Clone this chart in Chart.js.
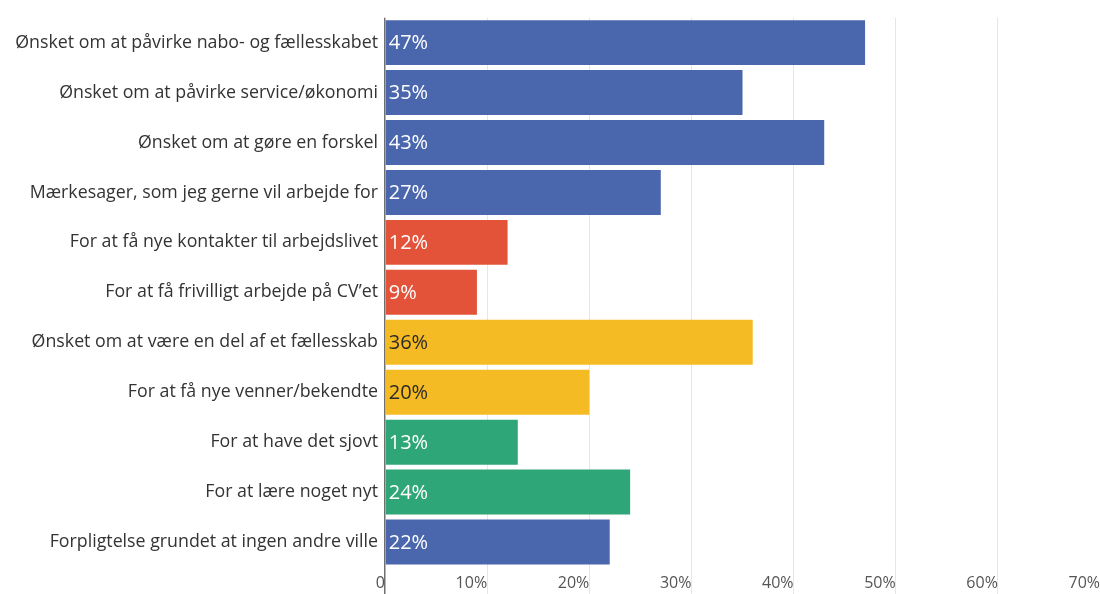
<!DOCTYPE html>
<html>
<head>
<meta charset="utf-8">
<script src="https://cdn.jsdelivr.net/npm/chart.js@4.4.0/dist/chart.umd.min.js"></script>
<style>
  html, body { margin: 0; padding: 0; background: #fff; }
  #wrap { width: 1100px; height: 594px; position: relative; }
</style>
</head>
<body>
<div id="wrap"><canvas id="barChart"></canvas></div>
<script>
// Data
const categories = [
    'Ønsket om at påvirke nabo- og fællesskabet',
    'Ønsket om at påvirke service/økonomi',
    'Ønsket om at gøre en forskel',
    'Mærkesager, som jeg gerne vil arbejde for',
    'For at få nye kontakter til arbejdslivet',
    'For at få frivilligt arbejde på CV\u2019et',
    'Ønsket om at være en del af et fællesskab',
    'For at få nye venner/bekendte',
    'For at have det sjovt',
    'For at lære noget nyt',
    'Forpligtelse grundet at ingen andre ville'
];
const values = [47, 35, 43, 27, 12, 9, 36, 20, 13, 24, 22];
const groups = ['blue', 'blue', 'blue', 'blue', 'red', 'red', 'yellow', 'yellow', 'green', 'green', 'blue'];
const xTicks = [0, 10, 20, 30, 40, 50, 60, 70];

// Farver
const palette = { blue: '#4a66ad', red: '#e2533a', yellow: '#f5bb24', green: '#2fa678' };
const labelColor = { blue: '#ffffff', red: '#ffffff', yellow: '#2a2a2a', green: '#ffffff' };
const FONT = "'Open Sans', Arial, sans-serif";

// Værdier inde i søjlerne
const valueLabels = {
    id: 'valueLabels',
    afterDatasetsDraw(chart) {
        const ctx = chart.ctx;
        const meta = chart.getDatasetMeta(0);
        ctx.save();
        ctx.font = '20px ' + FONT;
        ctx.textAlign = 'left';
        ctx.textBaseline = 'middle';
        meta.data.forEach((bar, i) => {
            ctx.fillStyle = labelColor[groups[i]];
            ctx.fillText(values[i] + '%', bar.base + 3, bar.y + 1);
        });
        ctx.restore();
    }
};

const ctx = document.getElementById('barChart').getContext('2d');
new Chart(ctx, {
    type: 'bar',
    data: {
        labels: categories,
        datasets: [{
            data: values,
            backgroundColor: groups.map(g => palette[g]),
            categoryPercentage: 1,
            barPercentage: 0.9
        }]
    },
    options: {
        indexAxis: 'y',
        responsive: true,
        maintainAspectRatio: false,
        animation: false,
        layout: { padding: { top: 15, left: 0, right: 0, bottom: 0 } },
        plugins: {
            legend: { display: false },
            tooltip: { enabled: false }
        },
        scales: {
            x: {
                min: 0,
                max: 70,
                afterBuildTicks: axis => { axis.ticks = xTicks.map(v => ({ value: v })); },
                afterFit: axis => { axis.height = 27; },
                border: { display: false },
                grid: {
                    color: c => c.tick && c.tick.value === 0 ? '#707070' : '#e6e6e6',
                    lineWidth: c => c.tick && c.tick.value === 0 ? 1.5 : 1,
                    tickLength: 27,
                    drawTicks: true
                },
                ticks: {
                    align: 'end',
                    padding: -20,
                    color: '#555555',
                    font: { family: FONT, size: 16 },
                    callback: v => v === 0 ? '0' : v + '%'
                }
            },
            y: {
                afterFit: axis => { axis.width = 385; },
                border: { display: false },
                grid: { display: false, drawTicks: false },
                ticks: {
                    padding: 7,
                    color: '#333333',
                    font: { family: FONT, size: 17.8 }
                }
            }
        }
    },
    plugins: [valueLabels]
});
</script>
</body>
</html>
